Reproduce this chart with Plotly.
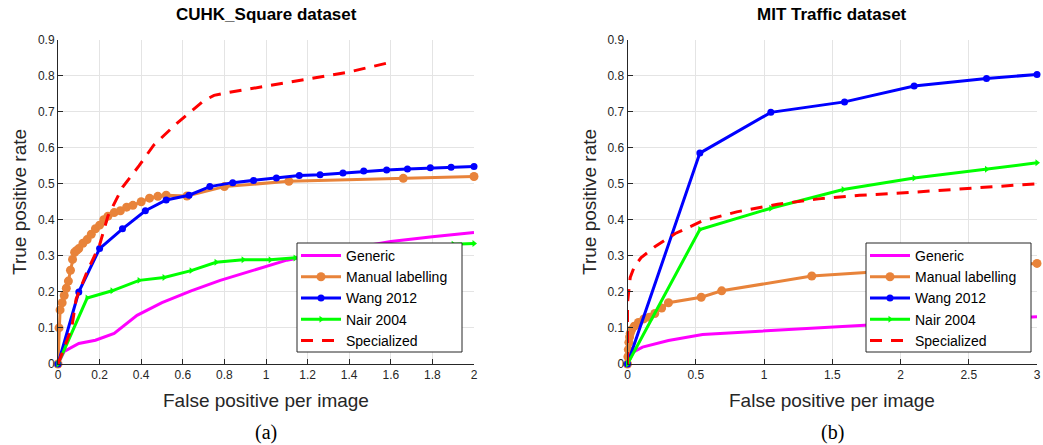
import plotly.graph_objects as go

# ---------------- data: (a) CUHK_Square ----------------
a_generic_x = [0, 0.03, 0.1, 0.18, 0.27, 0.38, 0.5, 0.64, 0.78, 0.94, 1.1, 1.3, 1.6, 1.8, 2.0]
a_generic_y = [0, 0.035, 0.057, 0.066, 0.085, 0.135, 0.17, 0.203, 0.232, 0.26, 0.288, 0.31, 0.34, 0.353, 0.365]

a_manual_x = [0, 0.005, 0.01, 0.02, 0.03, 0.04, 0.05, 0.06, 0.07, 0.08, 0.09, 0.1, 0.12, 0.14, 0.16,
              0.18, 0.2, 0.22, 0.24, 0.27, 0.3, 0.33, 0.36, 0.4, 0.44, 0.48, 0.52, 0.62, 0.8, 1.11, 1.66, 2.0]
a_manual_y = [0, 0.1, 0.15, 0.17, 0.19, 0.21, 0.23, 0.26, 0.29, 0.31, 0.315, 0.32, 0.335, 0.345, 0.36,
              0.375, 0.385, 0.4, 0.41, 0.42, 0.425, 0.435, 0.44, 0.45, 0.46, 0.465, 0.468, 0.466, 0.492, 0.507, 0.515, 0.52]

a_wang_x = [0, 0.1, 0.2, 0.31, 0.42, 0.52, 0.63, 0.73, 0.84, 0.94, 1.05, 1.16, 1.26, 1.37, 1.47,
            1.58, 1.68, 1.79, 1.89, 2.0]
a_wang_y = [0, 0.2, 0.32, 0.375, 0.425, 0.455, 0.468, 0.492, 0.503, 0.509, 0.516, 0.523, 0.525, 0.53, 0.535,
            0.538, 0.541, 0.544, 0.546, 0.548]

a_nair_x = [0, 0.14, 0.26, 0.39, 0.51, 0.64, 0.76, 0.89, 1.02, 1.14, 1.27, 1.39, 1.52, 1.65, 1.77, 1.9, 2.0]
a_nair_y = [0, 0.183, 0.203, 0.232, 0.24, 0.259, 0.282, 0.289, 0.289, 0.294, 0.30, 0.306, 0.313, 0.32, 0.326, 0.332, 0.334]

a_spec_x = [0, 0.066, 0.087, 0.14, 0.2, 0.24, 0.31, 0.39, 0.46, 0.57, 0.7, 0.75, 0.81, 1.0, 1.2, 1.4, 1.6]
a_spec_y = [0, 0.1, 0.18, 0.256, 0.33, 0.41, 0.49, 0.55, 0.607, 0.667, 0.73, 0.745, 0.752, 0.77, 0.79, 0.81, 0.837]

# ---------------- data: (b) MIT Traffic ----------------
b_generic_x = [0, 0.04, 0.11, 0.3, 0.55, 1.0, 1.5, 2.0, 2.5, 3.0]
b_generic_y = [0, 0.033, 0.047, 0.065, 0.082, 0.092, 0.103, 0.113, 0.122, 0.131]

b_manual_x = [0, 0.003, 0.006, 0.01, 0.015, 0.02, 0.03, 0.05, 0.08, 0.12, 0.16, 0.2, 0.25, 0.3,
              0.54, 0.69, 1.35, 2.0, 3.0]
b_manual_y = [0, 0.02, 0.04, 0.06, 0.075, 0.085, 0.095, 0.105, 0.115, 0.125, 0.13, 0.14, 0.155, 0.17,
              0.185, 0.203, 0.244, 0.26, 0.279]

b_wang_x = [0, 0.53, 1.05, 1.59, 2.1, 2.63, 3.0]
b_wang_y = [0, 0.585, 0.698, 0.727, 0.771, 0.792, 0.803]

b_nair_x = [0, 0.53, 1.05, 1.58, 2.1, 2.63, 3.0]
b_nair_y = [0, 0.373, 0.432, 0.484, 0.516, 0.54, 0.558]

b_spec_x = [0, 0, 0.02, 0.05, 0.1, 0.2, 0.35, 0.55, 0.8, 1.1, 1.4, 1.7, 2.0, 2.3, 2.6, 3.0]
b_spec_y = [0, 0.17, 0.24, 0.27, 0.295, 0.325, 0.362, 0.397, 0.422, 0.443, 0.458, 0.468, 0.474, 0.482, 0.49, 0.5]

names = ["Generic", "Manual labelling", "Wang 2012", "Nair 2004", "Specialized"]
titles = ["CUHK_Square dataset", "MIT Traffic dataset"]
captions = ["(a)", "(b)"]
y_ticks = [0, 0.1, 0.2, 0.3, 0.4, 0.5, 0.6, 0.7, 0.8, 0.9]
a_x_ticks = [0, 0.2, 0.4, 0.6, 0.8, 1, 1.2, 1.4, 1.6, 1.8, 2]
b_x_ticks = [0, 0.5, 1, 1.5, 2, 2.5, 3]

W, H = 1043, 445
FONT = "Liberation Sans, Arial"
fig = go.Figure()

styles = [
    dict(color="#FF00FF", marker=None, dash="solid"),
    dict(color="#E8833A", marker=dict(symbol="circle", size=9), dash="solid"),
    dict(color="#0000FF", marker=dict(symbol="circle", size=7), dash="solid"),
    dict(color="#00FF00", marker=dict(symbol="triangle-right", size=6), dash="solid"),
    dict(color="#FF0000", marker=None, dash="12px,9px"),
]

panels = [
    ("x", "y", "legend", [(a_generic_x, a_generic_y), (a_manual_x, a_manual_y), (a_wang_x, a_wang_y),
                          (a_nair_x, a_nair_y), (a_spec_x, a_spec_y)]),
    ("x2", "y2", "legend2", [(b_generic_x, b_generic_y), (b_manual_x, b_manual_y), (b_wang_x, b_wang_y),
                             (b_nair_x, b_nair_y), (b_spec_x, b_spec_y)]),
]

for xa, ya, lg, series in panels:
    for name, st, (xs, ys) in zip(names, styles, series):
        mode = "lines+markers" if st["marker"] else "lines"
        kw = dict(x=xs, y=ys, name=name, mode=mode, xaxis=xa, yaxis=ya, legend=lg,
                  line=dict(color=st["color"], width=3, dash=st["dash"]), cliponaxis=False)
        if st["marker"]:
            kw["marker"] = dict(color=st["color"], **st["marker"])
        fig.add_trace(go.Scatter(**kw))

ydom = [1 - 364 / H, 1 - 39.5 / H]
axis_common = dict(showline=True, linecolor="#262626", linewidth=1, mirror=False, automargin=False,
                   showgrid=True, gridcolor="#e4e4e4", gridwidth=1, zeroline=False,
                   ticks="inside", ticklen=5, tickcolor="#262626",
                   tickfont=dict(family=FONT, size=12, color="#262626"))

legend_common = dict(xanchor="left", yanchor="top", bgcolor="rgba(0,0,0,0)", borderwidth=0,
                     font=dict(family=FONT, size=14, color="black"), tracegroupgap=0,
                     itemwidth=40)

# legend boxes (drawn as frames behind legend text)
boxes = [(297, 462), (866, 1031)]
shapes = []
for x0, x1 in boxes:
    shapes.append(dict(type="rect", xref="paper", yref="paper", x0=x0 / W, x1=x1 / W,
                       y0=1 - 352 / H, y1=1 - 243 / H, fillcolor="white",
                       line=dict(color="#262626", width=1), layer="above"))

fig.update_layout(
    width=W, height=H,
    margin=dict(l=0, r=0, t=0, b=0),
    paper_bgcolor="white", plot_bgcolor="white",
    xaxis=dict(domain=[58 / W, 474 / W], range=[0, 2], tickvals=a_x_ticks,
               ticktext=[("%g" % v) for v in a_x_ticks], anchor="y", **axis_common),
    yaxis=dict(domain=ydom, range=[0, 0.9], tickvals=y_ticks,
               ticktext=[("%g" % v) for v in y_ticks], anchor="x", **axis_common),
    xaxis2=dict(domain=[627.5 / W, 1037 / W], range=[0, 3], tickvals=b_x_ticks,
                ticktext=[("%g" % v) for v in b_x_ticks], anchor="y2", **axis_common),
    yaxis2=dict(domain=ydom, range=[0, 0.9], tickvals=y_ticks,
                ticktext=[("%g" % v) for v in y_ticks], anchor="x2", **axis_common),
    legend=dict(x=(297 - 1) / W, y=1 - 240 / H, **legend_common),
    legend2=dict(x=(866 - 1) / W, y=1 - 240 / H, **legend_common),
    shapes=shapes,
)

ann = []
centers = [266 / W, 832 / W]
ytitle_x = [20 / W, 590 / W]
for i in range(2):
    ann.append(dict(text="<b>%s</b>" % titles[i], x=centers[i], y=1 - 15 / H, xref="paper", yref="paper",
                    showarrow=False, xanchor="center", yanchor="middle",
                    font=dict(family=FONT, size=17, color="black")))
    ann.append(dict(text="False positive per image", x=centers[i], y=1 - 400 / H, xref="paper", yref="paper",
                    showarrow=False, xanchor="center", yanchor="middle",
                    font=dict(family=FONT, size=19, color="#262626")))
    ann.append(dict(text="True positive rate", x=ytitle_x[i], y=1 - 202 / H, xref="paper", yref="paper",
                    showarrow=False, xanchor="center", yanchor="middle", textangle=-90,
                    font=dict(family=FONT, size=19, color="#262626")))
    ann.append(dict(text=captions[i], x=centers[i], y=1 - 432 / H, xref="paper", yref="paper",
                    showarrow=False, xanchor="center", yanchor="middle",
                    font=dict(family="Liberation Serif, Times New Roman", size=20, color="black")))
fig.update_layout(annotations=ann)

fig.write_html("out.html", config={"displayModeBar": False},
               post_script="document.body.style.margin='0px';document.body.style.padding='0px';"
                           "document.body.style.overflow='hidden';")
